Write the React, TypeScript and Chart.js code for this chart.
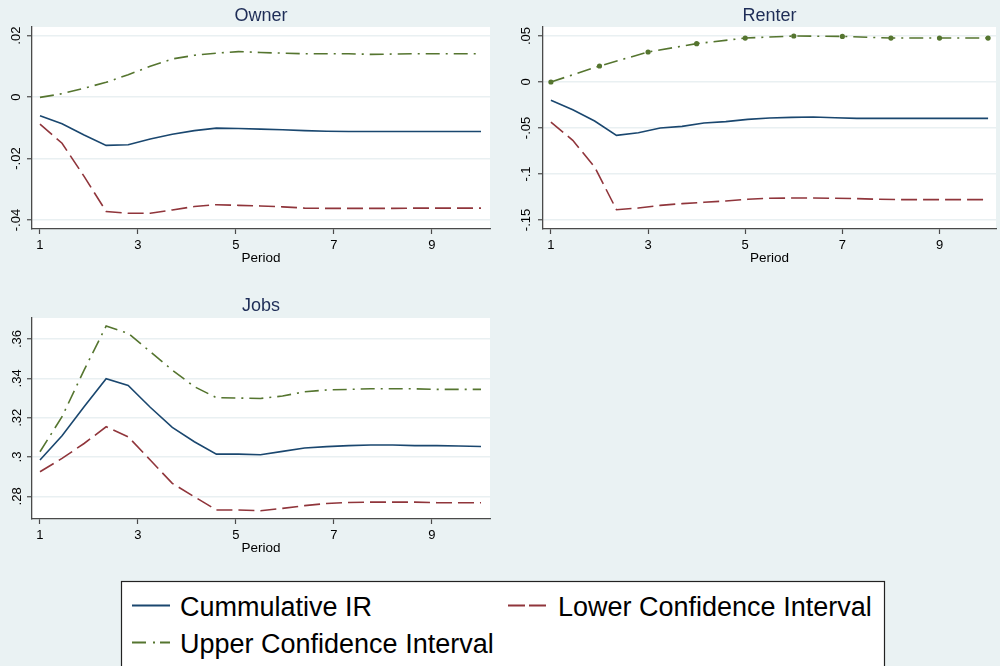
import { useEffect, useRef } from "react";
import { Chart, registerables } from "chart.js";

Chart.register(...registerables);

// ---------- data ----------
const seriesNames = ["Cummulative IR", "Lower Confidence Interval", "Upper Confidence Interval"];
const panelTitles = ["Owner", "Renter", "Jobs"];
const xAxisTitle = "Period";

const periodsFine = [1, 1.45, 1.9, 2.35, 2.8, 3.25, 3.7, 4.15, 4.6, 5.05, 5.5, 5.95, 6.4, 6.85, 7.3, 7.75, 8.2, 8.65, 9.1, 9.55, 10];
const periodsInt = [1, 2, 3, 4, 5, 6, 7, 8, 9, 10];

const ownerIR = [-0.0061, -0.0087, -0.0123, -0.0157, -0.0155, -0.0136, -0.0121, -0.0109, -0.0101, -0.0102, -0.0104, -0.0106, -0.0109, -0.0111, -0.0112, -0.0112, -0.0112, -0.0112, -0.0112, -0.0112, -0.0112];
const ownerLower = [-0.0088, -0.015, -0.0258, -0.0372, -0.0378, -0.0378, -0.0367, -0.0356, -0.035, -0.0352, -0.0354, -0.0357, -0.0361, -0.0362, -0.0362, -0.0362, -0.0362, -0.0361, -0.0361, -0.0361, -0.0361];
const ownerUpper = [-0.0001, 0.0011, 0.0029, 0.0048, 0.0073, 0.01, 0.0124, 0.0136, 0.0143, 0.0148, 0.0145, 0.0143, 0.0141, 0.0141, 0.0141, 0.0139, 0.014, 0.0141, 0.0141, 0.0141, 0.0141];

const renterIR = [-0.0199, -0.0301, -0.0424, -0.058, -0.0551, -0.05, -0.0482, -0.0446, -0.0431, -0.0406, -0.0391, -0.0384, -0.038, -0.0388, -0.0395, -0.0395, -0.0395, -0.0395, -0.0395, -0.0395, -0.0395];
const renterLower = [-0.0435, -0.0634, -0.0924, -0.1388, -0.137, -0.1341, -0.1322, -0.1308, -0.1293, -0.1275, -0.1264, -0.1261, -0.1261, -0.1264, -0.1268, -0.1275, -0.1279, -0.1279, -0.1279, -0.1279, -0.1279];
const renterUpper = [0, 0.0174, 0.0326, 0.0417, 0.0478, 0.05, 0.0496, 0.0478, 0.0478, 0.0478];

const jobsIR = [0.2985, 0.3108, 0.3256, 0.3398, 0.3364, 0.3253, 0.3151, 0.3078, 0.3015, 0.3015, 0.3012, 0.3029, 0.3046, 0.3053, 0.3058, 0.3061, 0.3061, 0.3058, 0.3058, 0.3056, 0.3054];
const jobsLower = [0.2925, 0.2993, 0.3069, 0.3154, 0.3103, 0.2985, 0.2866, 0.2798, 0.2731, 0.2731, 0.2727, 0.2739, 0.2753, 0.2764, 0.2769, 0.2771, 0.2771, 0.2771, 0.2768, 0.2768, 0.2768];
const jobsUpper = [0.3027, 0.3205, 0.3442, 0.3666, 0.3629, 0.3536, 0.3442, 0.3358, 0.3302, 0.33, 0.3298, 0.331, 0.3332, 0.3341, 0.3344, 0.3347, 0.3347, 0.3347, 0.3344, 0.3344, 0.3344];

const xTicks = [1, 3, 5, 7, 9];
const xTickLabels = ["1", "3", "5", "7", "9"];
const ownerYTicks = [-0.04, -0.02, 0, 0.02];
const ownerYLabels = ["-.04", "-.02", "0", ".02"];
const renterYTicks = [-0.15, -0.1, -0.05, 0, 0.05];
const renterYLabels = ["-.15", "-.1", "-.05", "0", ".05"];
const jobsYTicks = [0.28, 0.3, 0.32, 0.34, 0.36];
const jobsYLabels = [".28", ".3", ".32", ".34", ".36"];

// ---------- styles ----------
const FONT = "'Liberation Sans', Arial, Helvetica, sans-serif";
const BG = "#EAF2F3";
const NAVY = "#1A476F";
const MAROON = "#90353B";
const GREEN = "#55752F";
const AXIS = "#4a4a4a";
const GRID = "#E9F0F2";
const TITLE = "#1E2D57";
const DASH = [16, 6];
const DASHDOT = [14, 6, 2, 6];

Chart.defaults.font.family = FONT;

const plotBg = {
  id: "plotBg",
  beforeDraw(chart: any) {
    const { ctx, chartArea: a } = chart;
    ctx.save();
    ctx.fillStyle = "#ffffff";
    ctx.fillRect(a.left, a.top, a.right - a.left, a.bottom - a.top);
    ctx.restore();
  },
};

type PanelProps = {
  left: number;
  top: number;
  width: number;
  height: number;
  title: string;
  titleTop: number;
  titleBottom: number;
  yAxisWidth: number;
  xAxisHeight: number;
  padRight: number;
  xMin: number;
  xMax: number;
  yMin: number;
  yMax: number;
  yTicks: number[];
  yLabels: string[];
  yPad: number;
  ir: number[];
  lower: number[];
  upper: number[];
  upperX: number[];
  upperMarkers: boolean;
};

function Panel(p: PanelProps) {
  const ref = useRef<HTMLCanvasElement>(null);
  useEffect(() => {
    if (!ref.current) return;
    const chart = new Chart(ref.current, {
      type: "line",
      data: {
        datasets: [
          {
            label: seriesNames[0],
            data: periodsFine.map((x, i) => ({ x, y: p.ir[i] })),
            borderColor: NAVY,
            borderWidth: 1.6,
            pointRadius: 0,
            tension: 0,
            fill: false,
          },
          {
            label: seriesNames[1],
            data: periodsFine.map((x, i) => ({ x, y: p.lower[i] })),
            borderColor: MAROON,
            borderWidth: 1.6,
            borderDash: DASH,
            pointRadius: 0,
            tension: 0,
            fill: false,
          },
          {
            label: seriesNames[2],
            data: p.upperX.map((x, i) => ({ x, y: p.upper[i] })),
            borderColor: GREEN,
            borderWidth: 1.6,
            borderDash: DASHDOT,
            pointRadius: p.upperMarkers ? 2.6 : 0,
            pointBackgroundColor: GREEN,
            pointBorderWidth: 0,
            tension: 0,
            fill: false,
          },
        ],
      },
      options: {
        animation: false,
        responsive: true,
        maintainAspectRatio: false,
        devicePixelRatio: 1,
        layout: { padding: { left: 0, right: p.padRight, top: 0, bottom: 0 } },
        plugins: {
          legend: { display: false },
          tooltip: { enabled: false },
          title: {
            display: true,
            text: p.title,
            color: TITLE,
            fullSize: false,
            font: { size: 18, weight: "normal", family: FONT, lineHeight: 1.2 },
            padding: { top: p.titleTop, bottom: p.titleBottom },
          },
        },
        scales: {
          x: {
            type: "linear",
            min: p.xMin,
            max: p.xMax,
            bounds: "data",
            afterBuildTicks: (s: any) => {
              s.ticks = xTicks.map((v) => ({ value: v }));
            },
            afterFit: (s: any) => {
              s.height = p.xAxisHeight;
            },
            ticks: {
              autoSkip: false,
              minRotation: 0,
              maxRotation: 0,
              padding: 4,
              color: "#000",
              font: { size: 13, family: FONT },
              callback: (_v: any, i: number) => xTickLabels[i],
            },
            grid: { drawOnChartArea: false, drawTicks: true, tickLength: 5, tickColor: AXIS, tickWidth: 1.2 },
            border: { display: true, color: AXIS, width: 1.3 },
            title: {
              display: true,
              text: xAxisTitle,
              color: "#000",
              font: { size: 13.5, family: FONT },
              padding: { top: 0, bottom: 3.2 },
            },
          },
          y: {
            type: "linear",
            min: p.yMin,
            max: p.yMax,
            bounds: "data",
            afterBuildTicks: (s: any) => {
              s.ticks = p.yTicks.map((v) => ({ value: v }));
            },
            afterFit: (s: any) => {
              s.width = p.yAxisWidth;
            },
            ticks: {
              autoSkip: false,
              minRotation: 90,
              maxRotation: 90,
              crossAlign: "center",
              padding: p.yPad,
              color: "#000",
              font: { size: 13, family: FONT },
              callback: (_v: any, i: number) => p.yLabels[i],
            },
            grid: { color: GRID, lineWidth: 1.5, drawTicks: true, tickLength: 5, tickColor: AXIS, tickWidth: 1.2 },
            border: { display: true, color: AXIS, width: 1.3 },
          },
        },
      } as any,
      plugins: [plotBg],
    });
    return () => chart.destroy();
  }, []);
  return (
    <div style={{ position: "absolute", left: p.left, top: p.top, width: p.width, height: p.height }}>
      <canvas ref={ref} />
    </div>
  );
}

function Legend() {
  const fs = 27;
  return (
    <svg
      style={{ position: "absolute", left: 121, top: 581, overflow: "visible" }}
      width={764}
      height={90}
    >
      <rect x={0.5} y={0.5} width={763} height={120} fill="#ffffff" stroke="#222" strokeWidth={1.2} />
      <line x1={11} y1={24.5} x2={49} y2={24.5} stroke={NAVY} strokeWidth={2} />
      <text x={59} y={34.5} fontFamily={FONT} fontSize={fs} fill="#000">{seriesNames[0]}</text>
      <line x1={387} y1={24.5} x2={425} y2={24.5} stroke={MAROON} strokeWidth={2} strokeDasharray="17 4" />
      <text x={437} y={34.5} fontFamily={FONT} fontSize={fs} fill="#000">{seriesNames[1]}</text>
      <line x1={11} y1={61.5} x2={49} y2={61.5} stroke={GREEN} strokeWidth={2} strokeDasharray="14 7 2 5" />
      <text x={59} y={71.5} fontFamily={FONT} fontSize={fs} fill="#000">{seriesNames[2]}</text>
    </svg>
  );
}

export default function App() {
  return (
    <div style={{ position: "fixed", left: 0, top: 0, width: 1000, height: 666, background: BG, overflow: "hidden" }}>
      <Panel
        left={0}
        top={0}
        width={500}
        height={270}
        title={panelTitles[0]}
        titleTop={5}
        titleBottom={0.4}
        yAxisWidth={32}
        xAxisHeight={41}
        padRight={10}
        xMin={0.837}
        xMax={10.184}
        yMin={-0.0429}
        yMax={0.0228}
        yTicks={ownerYTicks}
        yLabels={ownerYLabels}
        yPad={-1}
        ir={ownerIR}
        lower={ownerLower}
        upper={ownerUpper}
        upperX={periodsFine}
        upperMarkers={false}
      />
      <Panel
        left={500}
        top={0}
        width={500}
        height={270}
        title={panelTitles[1]}
        titleTop={5}
        titleBottom={0.4}
        yAxisWidth={43}
        xAxisHeight={41}
        padRight={0}
        xMin={0.837}
        xMax={10.163}
        yMin={-0.1598}
        yMax={0.0598}
        yTicks={renterYTicks}
        yLabels={renterYLabels}
        yPad={0}
        ir={renterIR}
        lower={renterLower}
        upper={renterUpper}
        upperX={periodsInt}
        upperMarkers={true}
      />
      <Panel
        left={0}
        top={290}
        width={500}
        height={270}
        title={panelTitles[2]}
        titleTop={5}
        titleBottom={1.4}
        yAxisWidth={32}
        xAxisHeight={41}
        padRight={10}
        xMin={0.837}
        xMax={10.184}
        yMin={0.2685}
        yMax={0.3707}
        yTicks={jobsYTicks}
        yLabels={jobsYLabels}
        yPad={1}
        ir={jobsIR}
        lower={jobsLower}
        upper={jobsUpper}
        upperX={periodsFine}
        upperMarkers={false}
      />
      <Legend />
    </div>
  );
}
